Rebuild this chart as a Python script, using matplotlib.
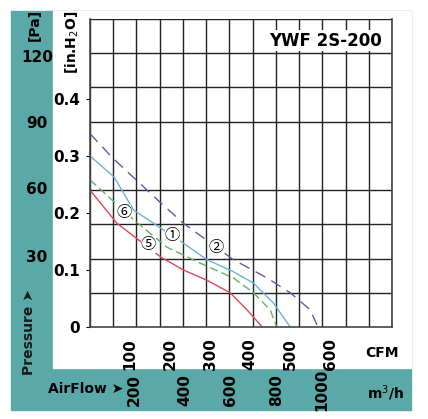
import numpy as np
import matplotlib
matplotlib.use("Agg")
import matplotlib.pyplot as plt
from matplotlib.patches import Rectangle

# data (CFM, inH2O)
c2_x = [0, 57, 176, 233, 358, 442, 500, 550, 569]
c2_y = [0.339, 0.296, 0.218, 0.182, 0.118, 0.086, 0.06, 0.03, 0.0]
c1_x = [0, 60, 109, 233, 292, 358, 408, 458, 500]
c1_y = [0.30, 0.263, 0.205, 0.147, 0.118, 0.097, 0.077, 0.042, 0.0]
c6_x = [0, 109, 192, 275, 358, 408, 450, 466]
c6_y = [0.258, 0.188, 0.14, 0.112, 0.086, 0.06, 0.03, 0.0]
c5_x = [0, 67, 176, 233, 292, 350, 392, 430]
c5_y = [0.24, 0.182, 0.123, 0.10, 0.082, 0.06, 0.03, 0.0]
labels = ["⑥", "①", "⑤", "②"]
label_x = [84, 206, 146, 315]
label_y = [0.200, 0.160, 0.144, 0.139]
cfm_ticks = [100, 200, 300, 400, 500, 600]
inh_ticks = [0, 0.1, 0.2, 0.3, 0.4]
pa_ticks = ["120", "90", "60", "30"]
m3h_ticks = ["200", "400", "600", "800", "1000"]

W, H = 428, 419
fig = plt.figure(figsize=(W/100, H/100), dpi=100)
fig.patch.set_facecolor("white")
teal = "#5ba8a8"
def fx(x): return x / W
def fy(y): return 1 - y / H
fig.patches.append(Rectangle((fx(11), fy(410)), (411-11)/W, (410-11)/H, transform=fig.transFigure, color=teal, zorder=-10))
fig.patches.append(Rectangle((fx(53), fy(368)), (411-53)/W, (368-11)/H, transform=fig.transFigure, color="white", zorder=-9))

ax = fig.add_axes([fx(90), fy(327), (392-90)/W, (327-19)/H])
ax.set_zorder(1)
ax.set_xlim(0, 754)
ax.set_ylim(0, 0.54)
ax.set_xticks(np.linspace(0, 754, 14), minor=True)
ax.set_yticks(np.linspace(0, 0.54, 10), minor=True)
ax.grid(True, which="minor", color="#222222", lw=1.0)
ax.tick_params(which="minor", length=0)
for s in ax.spines.values():
    s.set_color("#444444"); s.set_linewidth(1.2)
ax.spines["top"].set_visible(False)

ax.set_xticks(cfm_ticks)
ax.set_xticklabels([str(t) for t in cfm_ticks], rotation=90, fontsize=11, fontweight="bold")
ax.tick_params(axis="x", length=0, pad=8)
ax.set_yticks(inh_ticks)
ax.set_yticklabels(["0", "0.1", "0.2", "0.3", "0.4"], fontsize=11, fontweight="bold")
ax.tick_params(axis="y", length=3, pad=4)

ax.plot(c2_x, c2_y, color="#5b5ba5", lw=1, ls=(0, (8, 5)))
ax.plot(c1_x, c1_y, color="#6ab4d8", lw=1)
ax.plot(c6_x, c6_y, color="#5cb860", lw=1, ls=(0, (6, 3)))
ax.plot(c5_x, c5_y, color="#d84a5a", lw=1)
for t, x, y in zip(labels, label_x, label_y):
    ax.text(x, y, t, ha="center", va="center", fontsize=11, family=["Noto Sans CJK SC", "DejaVu Sans"],
            bbox=dict(facecolor="white", edgecolor="none", pad=0))

ax.text(0.78, 0.93, "YWF 2S-200", transform=ax.transAxes, ha="center", va="center", fontsize=12, fontweight="bold",
        bbox=dict(facecolor="white", edgecolor="none", pad=1), zorder=5)

pa_y = [57, 124, 189, 257]
for t, y in zip(pa_ticks, pa_y):
    fig.text(fx(37), fy(y), t, ha="center", va="center", fontsize=11, fontweight="bold")
fig.text(fx(35), fy(25), "[Pa]", rotation=90, ha="center", va="center", fontsize=10, fontweight="bold")
fig.text(fx(72), fy(42), "[in.H$_2$O]", rotation=90, ha="center", va="center", fontsize=10, fontweight="bold")
fig.text(fx(29), fy(332), "Pressure ➤", rotation=90, ha="center", va="center", fontsize=10, fontweight="bold", color="#1a1a1a")
fig.text(fx(48), fy(389), "AirFlow ➤", ha="left", va="center", fontsize=10, fontweight="bold")
m3_x = [134, 185, 231, 277, 322]
for t, x in zip(m3h_ticks, m3_x):
    fig.text(fx(x), fy(390), t, rotation=90, ha="center", va="center", fontsize=11, fontweight="bold")
fig.text(fx(382), fy(353), "CFM", ha="center", va="center", fontsize=10, fontweight="bold")
fig.text(fx(385), fy(393), "m$^3$/h", ha="center", va="center", fontsize=10, fontweight="bold")

fig.savefig("out.png", dpi=100)
